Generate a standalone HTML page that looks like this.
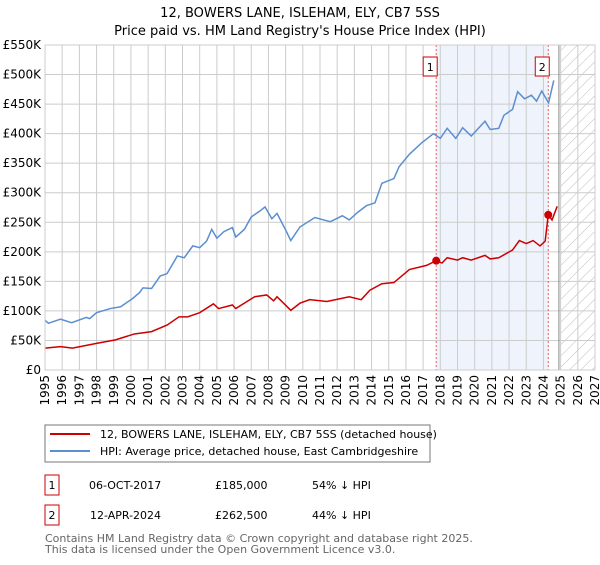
<!DOCTYPE html>
<html><head><meta charset="utf-8"><style>
body{margin:0;background:#fff;font-family:"Liberation Sans","DejaVu Sans",sans-serif;}
svg text{font-family:"DejaVu Sans","Liberation Sans",sans-serif;}
</style></head><body>
<svg id="chart" width="600" height="560" xmlns="http://www.w3.org/2000/svg">
<defs><pattern id="hatch" patternUnits="userSpaceOnUse" width="8" height="8" patternTransform="rotate(45)"><line x1="0" y1="0" x2="0" y2="8" stroke="#bbb" stroke-width="1"/></pattern></defs>
<text x="300" y="17" text-anchor="middle" font-size="13">12, BOWERS LANE, ISLEHAM, ELY, CB7 5SS</text>
<text x="300" y="35" text-anchor="middle" font-size="13">Price paid vs. HM Land Registry's House Price Index (HPI)</text>
<g id="plot"></g>
<g>
<rect x="45" y="425" width="385" height="37" fill="#fff" stroke="#777"/>
<line x1="50" y1="434" x2="90" y2="434" stroke="#cc0000" stroke-width="2"/>
<text x="100" y="438" font-size="11">12, BOWERS LANE, ISLEHAM, ELY, CB7 5SS (detached house)</text>
<line x1="50" y1="451" x2="90" y2="451" stroke="#5b8fd0" stroke-width="2"/>
<text x="100" y="455" font-size="11">HPI: Average price, detached house, East Cambridgeshire</text>
</g>
<g font-size="11">
<rect x="45" y="475" width="14" height="20" fill="#fff" stroke="#cc0000"/>
<text x="52" y="489" text-anchor="middle">1</text>
<text x="89" y="489">06-OCT-2017</text><text x="215" y="489">£185,000</text><text x="312" y="489">54% ↓ HPI</text>
<rect x="45" y="505" width="14" height="20" fill="#fff" stroke="#cc0000"/>
<text x="52" y="519" text-anchor="middle">2</text>
<text x="90" y="519">12-APR-2024</text><text x="215" y="519">£262,500</text><text x="312" y="519">44% ↓ HPI</text>
</g>
<text x="45" y="542" font-size="11" fill="#666">Contains HM Land Registry data © Crown copyright and database right 2025.</text>
<text x="45" y="553" font-size="11" fill="#666">This data is licensed under the Open Government Licence v3.0.</text>
</svg>
<script>
const hpiYears=[1995.0,1995.2,1995.9,1996.55,1997.4,1997.6,1998.0,1998.8,1999.4,2000.1,2000.5,2000.7,2001.2,2001.7,2002.1,2002.7,2003.1,2003.6,2004.0,2004.4,2004.7,2005.0,2005.4,2005.9,2006.1,2006.6,2007.0,2007.5,2007.8,2008.2,2008.5,2009.0,2009.3,2009.83,2010.7,2011.6,2012.3,2012.7,2013.2,2013.7,2014.2,2014.6,2015.3,2015.6,2016.2,2016.9,2017.6,2018.0,2018.4,2018.9,2019.3,2019.8,2020.6,2020.9,2021.4,2021.7,2022.2,2022.5,2022.9,2023.3,2023.6,2023.9,2024.3,2024.6];
const hpiValues=[84,79,86,80,89,87,97,104,107,121,131,139,138,159,163,193,190,210,207,218,238,223,234,241,225,238,259,269,276,256,265,237,219,242,258,251,261,254,267,278,283,316,324,344,365,384,400,392,409,392,410,396,421,407,409,431,441,471,459,465,455,472,452,490];
const ppYears=[1995.0,1995.9,1996.6,1998.0,1999.1,2000.2,2001.2,2002.1,2002.8,2003.3,2004.0,2004.8,2005.1,2005.9,2006.1,2007.2,2007.9,2008.3,2008.5,2009.3,2009.83,2010.4,2011.4,2012.7,2013.4,2013.9,2014.6,2015.3,2016.2,2017.2,2017.76,2018.1,2018.4,2019.0,2019.3,2019.8,2020.6,2020.9,2021.4,2022.2,2022.6,2023.0,2023.4,2023.8,2024.1,2024.28,2024.5,2024.8];
const ppValues=[37,39.5,37,45,51,61,65,76,90,90,97,112,104,110,104,124,127,117,124,101,113,119,116,124,119,135,146,148,170,177,185,181,190,186,190,186,194,188,190,203,219,214,219,210,218,262.5,254,277];
const saleYears=[2017.76,2024.28];
const saleValues=[185,262.5];
const saleLabels=["1","2"];
const yTicks=[0,50,100,150,200,250,300,350,400,450,500,550];
const yTickLabels=["£0","£50K","£100K","£150K","£200K","£250K","£300K","£350K","£400K","£450K","£500K","£550K"];
const xTicks=[];for(let y=1995;y<=2027;y++)xTicks.push(y);

const X0=45,X1=595,Y0=370,Y1=45;
const xs=y=>X0+(y-1995)*(X1-X0)/32;
const ys=v=>Y0-v*(Y0-Y1)/550;
const NS="http://www.w3.org/2000/svg";
const g=document.getElementById('plot');
function mk(t,a){const e=document.createElementNS(NS,t);for(const k in a)e.setAttribute(k,a[k]);g.appendChild(e);return e;}
let e;
e=mk('rect',{x:xs(saleYears[0]),y:Y1,width:xs(saleYears[1])-xs(saleYears[0]),height:Y0-Y1,fill:'#eef3fc'});


e=mk('rect',{x:xs(2025),y:Y1,width:X1-xs(2025),height:Y0-Y1,fill:'url(#hatch)'});


yTicks.forEach((v,i)=>{
 e=mk('line',{x1:X0,x2:X1,y1:ys(v),y2:ys(v),stroke:'#ccc','stroke-width':1});
 
 
 e=mk('text',{x:X0-4,y:ys(v)+4,'text-anchor':'end','font-size':12});
 e.textContent=yTickLabels[i];
 
 
});
xTicks.forEach(y=>{
 e=mk('line',{x1:xs(y),x2:xs(y),y1:Y1,y2:Y0,stroke:'#ccc','stroke-width':1});
 
 
 e=mk('text',{x:0,y:0,'text-anchor':'end','font-size':12,transform:`translate(${xs(y)+4},${Y0+5}) rotate(-90)`});
 e.textContent=y;
 
 
});
e=mk('line',{x1:xs(2024.9),x2:xs(2024.9),y1:Y1,y2:Y0,stroke:'#888','stroke-width':1});


saleYears.forEach((y,i)=>{
 e=mk('line',{x1:xs(y),x2:xs(y),y1:Y1,y2:Y0,stroke:'#e06060','stroke-width':1,'stroke-dasharray':'2,2'});
 
 
});
e=mk('polyline',{points:hpiYears.map((y,i)=>xs(y)+','+ys(hpiValues[i])).join(' '),fill:'none',stroke:'#5b8fd0','stroke-width':1.5});


e=mk('polyline',{points:ppYears.map((y,i)=>xs(y)+','+ys(ppValues[i])).join(' '),fill:'none',stroke:'#cc0000','stroke-width':1.5});


saleYears.forEach((y,i)=>{
 e=mk('circle',{cx:xs(y),cy:ys(saleValues[i]),r:4,fill:'#cc0000'});
 
 
 e=mk('rect',{x:xs(y)-13,y:57,width:14,height:19,fill:'#fff',stroke:'#cc0000'});
 
 
 e=mk('text',{x:xs(y)-6,y:71,'text-anchor':'middle','font-size':11});
 e.textContent=saleLabels[i];
 
 
});
e=mk('rect',{x:X0,y:Y1,width:X1-X0,height:Y0-Y1,fill:'none',stroke:'#ccc'});


</script>
</body></html>
